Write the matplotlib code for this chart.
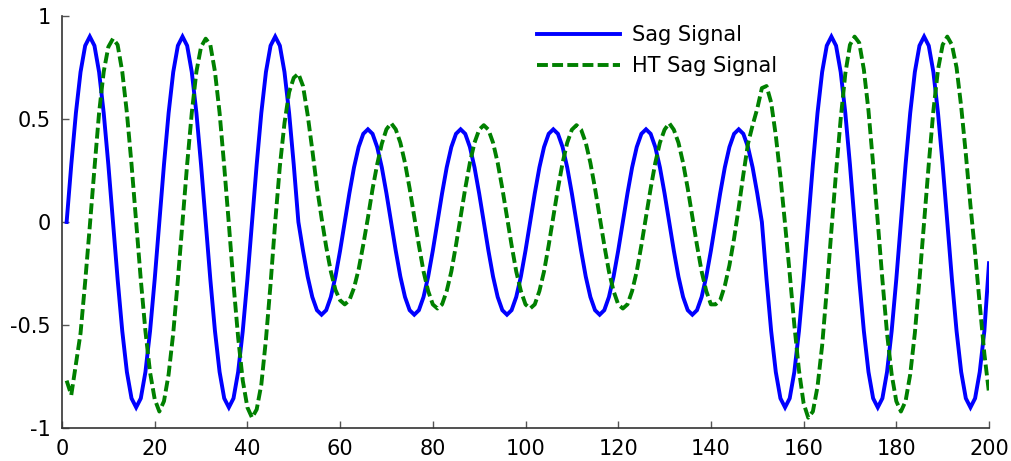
import matplotlib
matplotlib.use("Agg")
import matplotlib.pyplot as plt
import numpy as np

# ---- data ----
sample_index = np.arange(1, 201)

sag_signal = [
    0, .278, .529, .728, .856, .9, .856, .728, .529, .278,
    0, -.278, -.529, -.728, -.856, -.9, -.856, -.728, -.529, -.278,
    0, .278, .529, .728, .856, .9, .856, .728, .529, .278,
    0, -.278, -.529, -.728, -.856, -.9, -.856, -.728, -.529, -.278,
    0, .278, .529, .728, .856, .9, .856, .728, .529, .278,
    0, -.139, -.265, -.364, -.428, -.45, -.428, -.364, -.265, -.139,
    0, .139, .265, .364, .428, .45, .428, .364, .265, .139,
    0, -.139, -.265, -.364, -.428, -.45, -.428, -.364, -.265, -.139,
    0, .139, .265, .364, .428, .45, .428, .364, .265, .139,
    0, -.139, -.265, -.364, -.428, -.45, -.428, -.364, -.265, -.139,
    0, .139, .265, .364, .428, .45, .428, .364, .265, .139,
    0, -.139, -.265, -.364, -.428, -.45, -.428, -.364, -.265, -.139,
    0, .139, .265, .364, .428, .45, .428, .364, .265, .139,
    0, -.139, -.265, -.364, -.428, -.45, -.428, -.364, -.265, -.139,
    0, .139, .265, .364, .428, .45, .428, .364, .265, .139,
    0, -.278, -.529, -.728, -.856, -.9, -.856, -.728, -.529, -.278,
    0, .278, .529, .728, .856, .9, .856, .728, .529, .278,
    0, -.278, -.529, -.728, -.856, -.9, -.856, -.728, -.529, -.278,
    0, .278, .529, .728, .856, .9, .856, .728, .529, .278,
    0, -.278, -.529, -.728, -.856, -.9, -.856, -.728, -.529, -.2,
]

ht_sag_signal = [
    -.77, -.84, -.69, -.54, -.29, -.02, .26, .53, .73, .85,
    .89, .86, .73, .53, .28, 0, -.28, -.53, -.73, -.86,
    -.92, -.87, -.74, -.54, -.28, 0, .28, .53, .73, .85,
    .89, .86, .73, .53, .27, -.01, -.30, -.56, -.77, -.90,
    -.95, -.91, -.79, -.57, -.30, 0, .27, .48, .63, .70,
    .72, .66, .52, .35, .17, .02, -.12, -.24, -.33, -.38,
    -.40, -.38, -.32, -.23, -.11, .02, .16, .28, .38, .45,
    .48, .45, .385, .287, .163, .025, -.113, -.24, -.335, -.40,
    -.42, -.40, -.335, -.24, -.113, .025, .163, .287, .385, .448,
    .47, .448, .385, .287, .163, .025, -.113, -.24, -.335, -.40,
    -.42, -.40, -.335, -.24, -.113, .025, .163, .287, .385, .448,
    .47, .448, .385, .287, .163, .025, -.113, -.24, -.335, -.40,
    -.42, -.40, -.335, -.24, -.113, .025, .163, .287, .385, .448,
    .48, .448, .385, .287, .163, .025, -.113, -.24, -.335, -.40,
    -.40, -.38, -.31, -.21, -.08, .07, .23, .38, .47, .55,
    .65, .66, .58, .42, .22, -.01, -.25, -.50, -.72, -.88,
    -.95, -.92, -.80, -.60, -.33, -.04, .24, .50, .72, .86,
    .90, .87, .74, .54, .28, 0, -.28, -.54, -.74, -.87,
    -.92, -.87, -.74, -.54, -.28, 0, .28, .54, .74, .86,
    .90, .86, .75, .56, .33, .08, -.15, -.40, -.64, -.83,
]

series_labels = ["Sag Signal", "HT Sag Signal"]
x_ticks = [0, 20, 40, 60, 80, 100, 120, 140, 160, 180, 200]
y_ticks = [-1, -0.5, 0, 0.5, 1]
y_tick_labels = ["-1", "-0.5", "0", "0.5", "1"]

# ---- figure ----
plt.rcParams['font.family'] = ['DejaVu Sans']
plt.rcParams['axes.unicode_minus'] = False

FS = 15
W, H = 1012, 461
fig = plt.figure(figsize=(W / 100, H / 100), dpi=100)
ax = fig.add_axes([62 / W, 1 - 428 / H, (989 - 62) / W, (428 - 16) / H])

ax.plot(sample_index, sag_signal, color='#0000FF', lw=2.8,
        solid_joinstyle='miter', label=series_labels[0])
ax.plot(sample_index, ht_sag_signal, color='#008000', lw=2.8,
        linestyle=(0, (2.8, 1.1)), label=series_labels[1])

ax.set_xlim(0, 200)
ax.set_ylim(-1, 1)
ax.set_xticks(x_ticks)
ax.set_yticks(y_ticks)
ax.set_yticklabels(y_tick_labels)

for s in ['top', 'right']:
    ax.spines[s].set_visible(False)
for s in ['left', 'bottom']:
    ax.spines[s].set_color('#333333')
    ax.spines[s].set_linewidth(1.2)
ax.tick_params(direction='in', length=5, width=1, colors='#555555',
               labelcolor='black', labelsize=FS)
ax.tick_params(axis='x', pad=8)
ax.tick_params(axis='y', pad=8)

leg = ax.legend(loc='upper left', bbox_to_anchor=(537 / W, 1 - 25 / H),
                bbox_transform=fig.transFigure, frameon=False,
                fontsize=FS, handlelength=4.0, handletextpad=0.58,
                labelspacing=0.52, borderpad=0, borderaxespad=0)

fig.savefig('out.png', dpi=100)
